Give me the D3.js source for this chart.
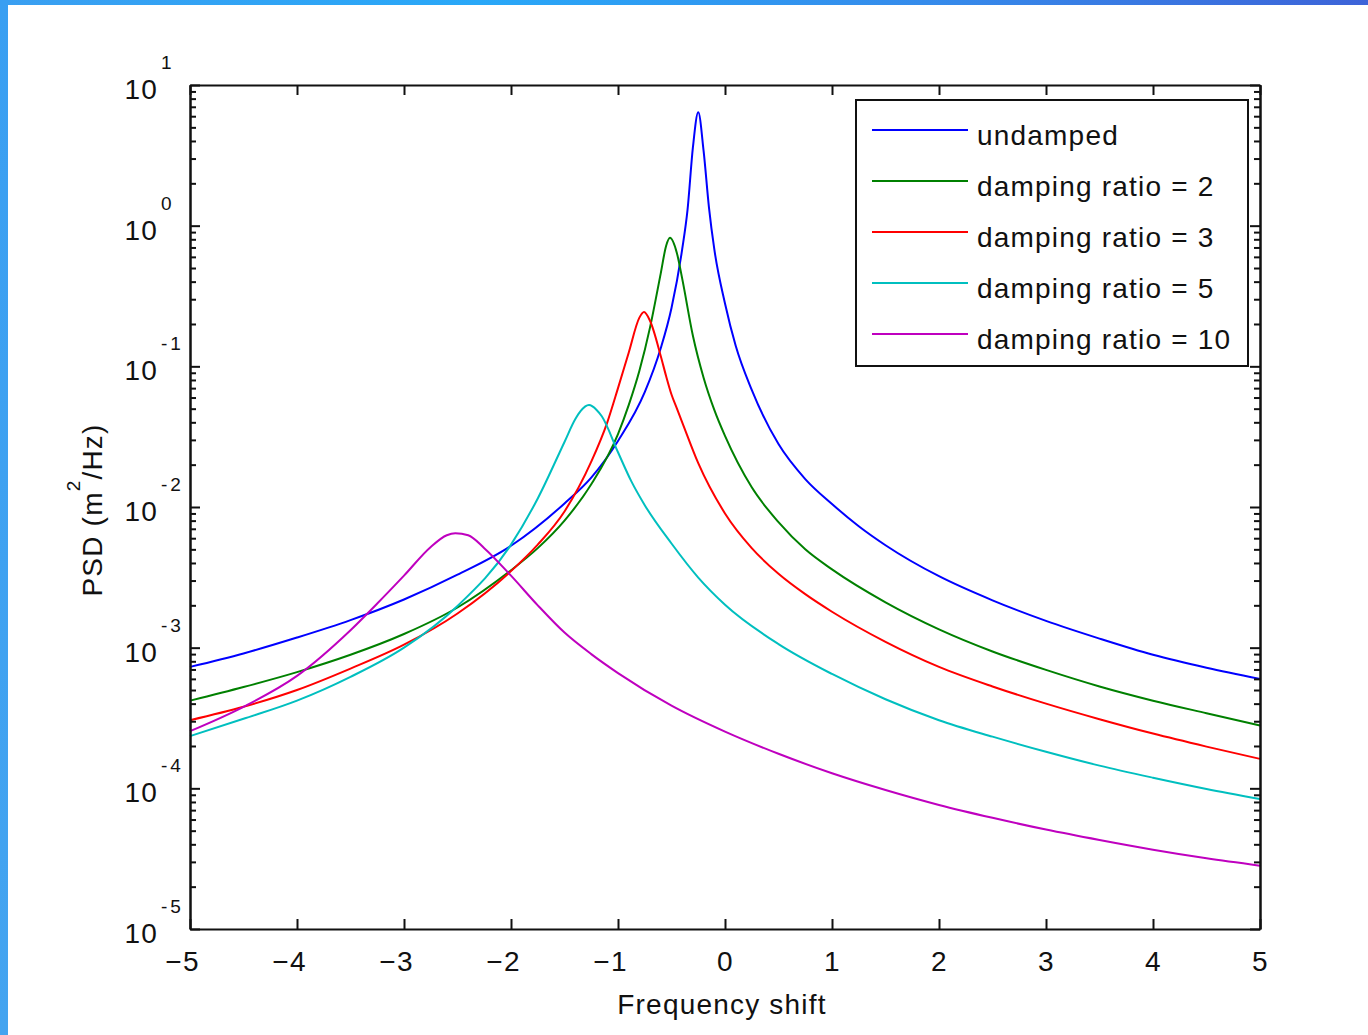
<!DOCTYPE html>
<html>
<head>
<meta charset="utf-8">
<script src="https://cdn.jsdelivr.net/npm/d3@7"></script>
<style>
  body { margin: 0; background: #fff; }
  text { font-family: "Liberation Sans", Arial, sans-serif; fill: #111; }
</style>
</head>
<body>
<svg class="psdsvg" width="1368" height="1035"></svg>
<script>
// frequency shift samples and PSD values (m^2/Hz)
var undampedF = [-5, -4.5, -4, -3.5, -3, -2.5, -2, -1.5, -1.25, -1, -0.75, -0.6, -0.5, -0.4, -0.35, -0.3, -0.25, -0.2, -0.15, -0.1, 0, 0.1, 0.25, 0.5, 0.75, 1, 1.25, 1.5, 2, 2.5, 3, 3.5, 4, 4.5, 5];
var undampedPSD = [7.3e-4, 9.1e-4, 1.18e-3, 1.57e-3, 2.2e-3, 3.3e-3, 5.3e-3, 1.06e-2, 1.62e-2, 2.95e-2, 6.55e-2, 0.135, 0.26, 0.68, 1.3, 3.6, 6.4, 3.4, 1.35, 0.68, 0.28, 0.14, 0.068, 0.028, 0.0158, 0.0105, 7.3e-3, 5.35e-3, 3.22e-3, 2.17e-3, 1.55e-3, 1.16e-3, 8.9e-4, 7.2e-4, 6.0e-4];

var ratio2F = [-5, -4.5, -4, -3.5, -3, -2.5, -2, -1.75, -1.5, -1.25, -1, -0.9, -0.8, -0.7, -0.6, -0.55, -0.514, -0.45, -0.4, -0.3, -0.2, -0.1, 0, 0.25, 0.5, 0.75, 1, 1.5, 2, 2.5, 3, 3.5, 4, 4.5, 5];
var ratio2PSD = [4.2e-4, 5.25e-4, 6.7e-4, 8.9e-4, 1.25e-3, 1.93e-3, 3.55e-3, 5.1e-3, 8.0e-3, 1.45e-2, 3.3e-2, 5.3e-2, 9.3e-2, 0.19, 0.46, 0.72, 0.82, 0.64, 0.42, 0.165, 0.083, 0.049, 0.032, 0.0138, 7.8e-3, 5.0e-3, 3.6e-3, 2.1e-3, 1.35e-3, 9.4e-4, 6.95e-4, 5.3e-4, 4.2e-4, 3.42e-4, 2.8e-4];

var ratio3F = [-5, -4.5, -4, -3.5, -3, -2.5, -2, -1.75, -1.5, -1.25, -1.1, -1, -0.9, -0.8, -0.757, -0.7, -0.6, -0.55, -0.5, -0.45, -0.4, -0.25, 0, 0.25, 0.5, 0.75, 1, 1.5, 2, 2.5, 3, 3.5, 4, 4.5, 5];
var ratio3PSD = [3.05e-4, 3.8e-4, 5.0e-4, 7.1e-4, 1.05e-3, 1.75e-3, 3.5e-3, 5.4e-3, 9.3e-3, 2.1e-2, 4.0e-2, 7.0e-2, 0.125, 0.222, 0.243, 0.21, 0.118, 0.085, 0.063, 0.0502, 0.040, 0.0205, 9.0e-3, 5.1e-3, 3.35e-3, 2.4e-3, 1.8e-3, 1.1e-3, 7.3e-4, 5.3e-4, 4.0e-4, 3.1e-4, 2.45e-4, 1.98e-4, 1.62e-4];

var ratio5F = [-5, -4.5, -4, -3.5, -3, -2.5, -2, -1.75, -1.5, -1.4, -1.35, -1.271, -1.2, -1.15, -1, -0.875, -0.75, -0.5, -0.25, 0, 0.5, 1, 1.5, 2, 2.5, 3, 3.5, 4, 4.5, 5];
var ratio5PSD = [2.35e-4, 3.12e-4, 4.2e-4, 6.2e-4, 1.0e-3, 1.98e-3, 5.4e-3, 1.15e-2, 2.9e-2, 4.2e-2, 4.8e-2, 5.3e-2, 4.9e-2, 4.4e-2, 2.45e-2, 1.52e-2, 1.03e-2, 5.5e-3, 3.15e-3, 2.02e-3, 1.06e-3, 6.5e-4, 4.3e-4, 3.05e-4, 2.33e-4, 1.82e-4, 1.45e-4, 1.19e-4, 9.9e-5, 8.4e-5];

var ratio10F = [-5, -4.5, -4, -3.5, -3.25, -3, -2.75, -2.6, -2.52, -2.4, -2.25, -2, -1.75, -1.5, -1.25, -1, -0.5, 0, 0.5, 1, 1.5, 2, 2.5, 3, 3.5, 4, 4.5, 5];
var ratio10PSD = [2.55e-4, 3.8e-4, 6.3e-4, 1.33e-3, 2.06e-3, 3.25e-3, 5.2e-3, 6.3e-3, 6.5e-3, 6.3e-3, 5.1e-3, 3.25e-3, 2.0e-3, 1.28e-3, 9.0e-4, 6.6e-4, 3.87e-4, 2.53e-4, 1.76e-4, 1.28e-4, 9.73e-5, 7.62e-5, 6.17e-5, 5.09e-5, 4.29e-5, 3.66e-5, 3.18e-5, 2.82e-5];

var seriesNames = ["undamped", "damping ratio = 2", "damping ratio = 3", "damping ratio = 5", "damping ratio = 10"];
var seriesColors = ["#0000ff", "#008000", "#ff0000", "#00bfbf", "#bf00bf"];
var xTicks = [-5, -4, -3, -2, -1, 0, 1, 2, 3, 4, 5];
var yExponents = [-5, -4, -3, -2, -1, 0, 1];

var series = [
    [undampedF, undampedPSD],
    [ratio2F, ratio2PSD],
    [ratio3F, ratio3PSD],
    [ratio5F, ratio5PSD],
    [ratio10F, ratio10PSD]
].map(function(s, i) {
    return { name: seriesNames[i], color: seriesColors[i], points: s[0].map(function(f, j) { return [f, s[1][j]]; }) };
});

var svg = d3.select(".psdsvg"),
    plotLeft = 190, plotRight = 1260, plotTop = 85, plotBottom = 929;

// blue page frame
var defs = svg.append("defs");
var gTop = defs.append("linearGradient").attr("id", "frameTop");
gTop.append("stop").attr("offset", "0%").attr("stop-color", "#3a9ff1");
gTop.append("stop").attr("offset", "35%").attr("stop-color", "#29a8f8");
gTop.append("stop").attr("offset", "70%").attr("stop-color", "#3689ea");
gTop.append("stop").attr("offset", "100%").attr("stop-color", "#3d63d8");
var gLeft = defs.append("linearGradient").attr("id", "frameLeft")
    .attr("x1", 0).attr("y1", 0).attr("x2", 0).attr("y2", 1);
gLeft.append("stop").attr("offset", "0%").attr("stop-color", "#399ff2");
gLeft.append("stop").attr("offset", "100%").attr("stop-color", "#44a4f0");
svg.append("rect").attr("x", 0).attr("y", 0).attr("width", 1368).attr("height", 5).attr("fill", "url(#frameTop)");
svg.append("rect").attr("x", 0).attr("y", 0).attr("width", 8).attr("height", 1035).attr("fill", "url(#frameLeft)");

var xScale = d3.scaleLinear().domain([-5, 5]).range([plotLeft, plotRight]);
var yScale = d3.scaleLog().domain([1e-5, 10]).range([plotBottom, plotTop]);

var majorY = yExponents.map(function(e) { return Math.pow(10, e); });
var minorY = [];
yExponents.slice(0, -1).forEach(function(e) {
    for (var k = 2; k <= 9; k++) minorY.push(k * Math.pow(10, e));
});

// curves
var line = d3.line()
    .x(function(d) { return xScale(d[0]); })
    .y(function(d) { return yScale(d[1]); })
    .curve(d3.curveMonotoneX);

svg.append("g").selectAll("path")
    .data(series)
    .enter().append("path")
    .attr("d", function(d) { return line(d.points); })
    .attr("fill", "none")
    .attr("stroke", function(d) { return d.color; })
    .attr("stroke-width", 2);

// axes: ticks point inward on all four sides
function styleAxis(g) {
    g.selectAll(".domain").attr("stroke", "#111").attr("stroke-width", 2);
    g.selectAll(".tick line").attr("stroke", "#111").attr("stroke-width", 2);
}

var xAxis = svg.append("g")
    .attr("transform", "translate(0," + plotBottom + ")")
    .call(d3.axisBottom(xScale).tickValues(xTicks).tickSizeInner(-10).tickSizeOuter(0)
        .tickPadding(22).tickFormat(d3.format("d")))
    .call(styleAxis);
xAxis.selectAll(".tick text")
    .attr("font-size", 28)
    .attr("letter-spacing", 1.2)
    .attr("fill", "#111")
    .attr("dx", function(d) { return d < 0 ? -8 : 0; });

svg.append("g")
    .attr("transform", "translate(0," + plotTop + ")")
    .call(d3.axisTop(xScale).tickValues(xTicks).tickSizeInner(-10).tickSizeOuter(0).tickFormat(""))
    .call(styleAxis);

svg.append("g")
    .attr("transform", "translate(" + plotLeft + ",0)")
    .call(d3.axisLeft(yScale).tickValues(majorY).tickSizeInner(-10).tickSizeOuter(0).tickFormat(""))
    .call(styleAxis);
svg.append("g")
    .attr("transform", "translate(" + plotLeft + ",0)")
    .call(d3.axisLeft(yScale).tickValues(minorY).tickSizeInner(-6).tickSizeOuter(0).tickFormat(""))
    .call(styleAxis);
svg.append("g")
    .attr("transform", "translate(" + plotRight + ",0)")
    .call(d3.axisRight(yScale).tickValues(majorY).tickSizeInner(-10).tickSizeOuter(0).tickFormat(""))
    .call(styleAxis);
svg.append("g")
    .attr("transform", "translate(" + plotRight + ",0)")
    .call(d3.axisRight(yScale).tickValues(minorY).tickSizeInner(-6).tickSizeOuter(0).tickFormat(""))
    .call(styleAxis);

// y tick labels as 10 with a raised exponent
var yLab = svg.append("g").selectAll("g")
    .data(yExponents)
    .enter().append("g");
yLab.append("text")
    .attr("x", 158)
    .attr("y", function(e) { return yScale(Math.pow(10, e)) + 14; })
    .attr("text-anchor", "end")
    .attr("font-size", 28)
    .attr("letter-spacing", 1.2)
    .text("10");
yLab.append("text")
    .attr("x", 161)
    .attr("y", function(e) { return yScale(Math.pow(10, e)) - 16; })
    .attr("font-size", 19)
    .attr("letter-spacing", 3)
    .text(function(e) { return e < 0 ? "-" + (-e) : String(e); });

// axis titles
svg.append("text")
    .attr("x", 722)
    .attr("y", 1014)
    .attr("text-anchor", "middle")
    .attr("font-size", 28)
    .attr("letter-spacing", 1.2)
    .text("Frequency shift");

var yTitle = svg.append("text")
    .attr("transform", "translate(102,510) rotate(-90)")
    .attr("text-anchor", "middle")
    .attr("font-size", 28)
    .attr("letter-spacing", 1.2);
yTitle.append("tspan").text("PSD (m");
yTitle.append("tspan").attr("font-size", 19).attr("dy", -22).text("2");
yTitle.append("tspan").attr("dy", 22).text("/Hz)");

// legend
var legend = svg.append("g");
legend.append("rect")
    .attr("x", 856).attr("y", 100)
    .attr("width", 392).attr("height", 266)
    .attr("fill", "#fff")
    .attr("stroke", "#111")
    .attr("stroke-width", 2);
var item = legend.selectAll(".item")
    .data(series)
    .enter().append("g")
    .attr("transform", function(d, i) { return "translate(0," + (130 + i * 51) + ")"; });
item.append("line")
    .attr("x1", 872).attr("x2", 968)
    .attr("stroke", function(d) { return d.color; })
    .attr("stroke-width", 2);
item.append("text")
    .attr("x", 977)
    .attr("y", 15)
    .attr("font-size", 28)
    .attr("letter-spacing", 1.2)
    .text(function(d) { return d.name; });
</script>
</body>
</html>
